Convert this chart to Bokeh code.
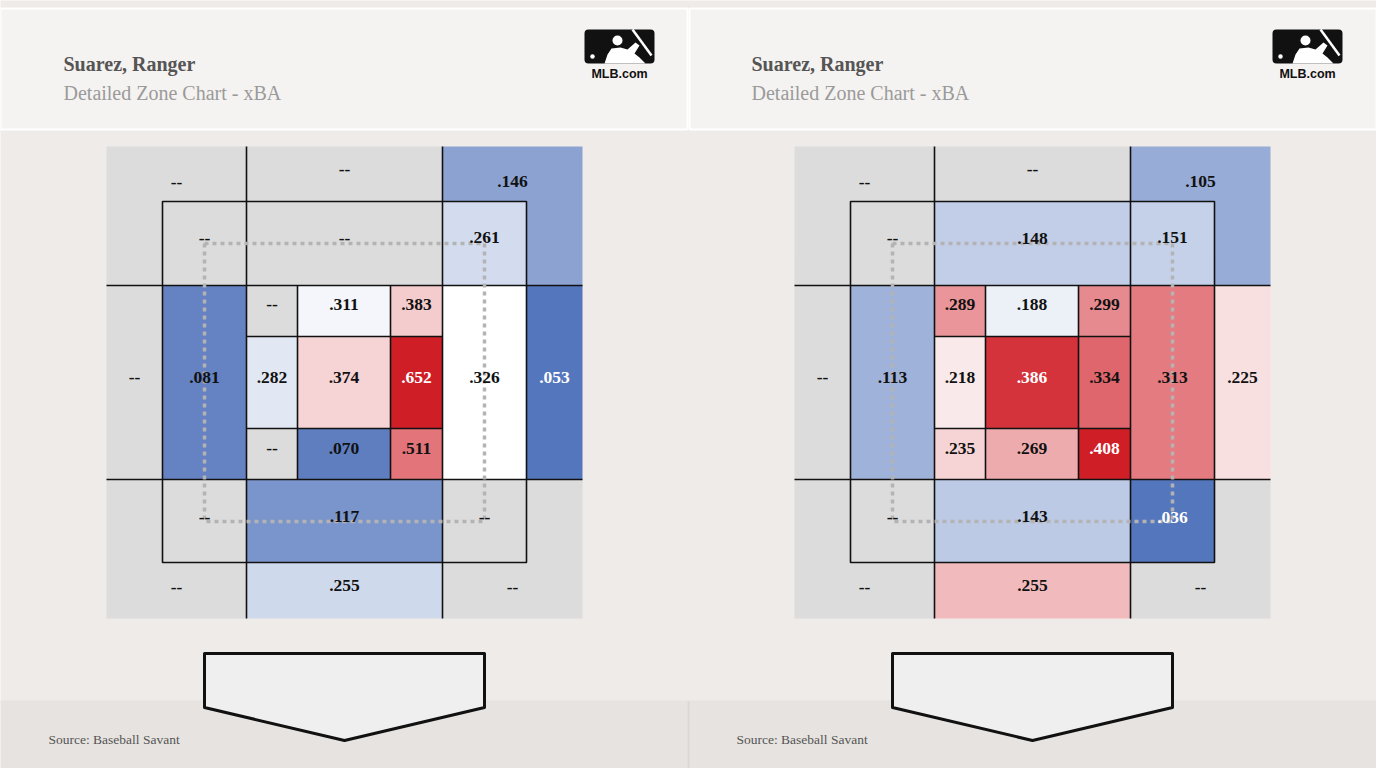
import numpy as np
from bokeh.plotting import figure
from bokeh.models import Range1d, ColumnDataSource, BoxAnnotation
from bokeh.core.properties import value
from bokeh.embed import file_html
from bokeh.resources import INLINE

# ---------------- data ----------------
player = "Suarez, Ranger"
subtitle = "Detailed Zone Chart - xBA"
source_note = "Source: Baseball Savant"
logo_text = "MLB.com"

# xBA per zone, None = no data ("--")
# outer (chase) zones: TL, TM, TR, L, R, BL, BM, BR
# shadow zones:        TL, TM, TR, L, R, BL, BM, BR
# heart zones (3x3):   row1 L,M,R / row2 L,M,R / row3 L,M,R
left_outer = [None, None, .146, None, .053, None, .255, None]
left_shadow = [None, None, .261, .081, .326, None, .117, None]
left_heart = [None, .311, .383, .282, .374, .652, None, .070, .511]

right_outer = [None, None, .105, None, .225, None, .255, None]
right_shadow = [None, .148, .151, .113, .313, None, .143, .036]
right_heart = [.289, .188, .299, .218, .386, .334, .235, .269, .408]

# colour scale anchors per chart: (blue end, white middle, red end)
left_scale = (0.053, 0.326, 0.652)
right_scale = (0.036, 0.205, 0.408)

# ---------------- styles ----------------
BG = "#eeebe8"
HEADER = "#f5f3f1"
FOOTER = "#e6e3e0"
GRAY = "#dcdcdc"
BLUE = np.array([84, 118, 188])
RED = np.array([208, 30, 39])
WHITE = np.array([255, 255, 255])
SERIF = value("Liberation Serif")
SANS = value("Liberation Sans")


def colour(v, scale):
    lo, mid, hi = scale
    if v is None:
        return GRAY, False
    if v >= mid:
        t = min((v - mid) / (hi - mid), 1.0)
        c = WHITE + (RED - WHITE) * t ** 0.85
        strong = t > 0.8
    else:
        t = min((mid - v) / (mid - lo), 1.0)
        c = WHITE + (BLUE - WHITE) * t ** 0.95
        strong = t > 0.97
    c = np.clip(np.round(c), 0, 255).astype(int)
    return "#%02x%02x%02x" % tuple(c), strong


def label(v):
    return "--" if v is None else ".%03d" % int(round(v * 1000))


# ---------------- geometry (left panel, page pixels) ----------------
a, b, c, d, e, f, g, h = 106, 162, 246, 297, 390, 442, 526, 582
A, B, C, D, E, F, G, H = 146, 201, 285, 336, 428, 479, 562, 618


def rect(x0, x1, y0, y1):
    return [x0, x1, x1, x0], [y0, y0, y1, y1]


outer_geom = [
    ([a, c, c, b, b, a], [A, A, B, B, C, C], 176, 182),
    (*rect(c, f, A, B), 344, 169),
    ([f, h, h, g, g, f], [A, A, C, C, B, B], 512, 181),
    (*rect(a, b, C, F), 134, 377),
    (*rect(g, h, C, F), 554, 377),
    ([a, b, b, c, c, a], [F, F, G, G, H, H], 176, 587),
    (*rect(c, f, G, H), 344, 585),
    ([g, h, h, f, f, g], [F, F, H, H, G, G], 512, 587),
]
shadow_geom = [
    (*rect(b, c, B, C), 204, 238),
    (*rect(c, f, B, C), 344, 238),
    (*rect(f, g, B, C), 484, 237),
    (*rect(b, c, C, F), 204, 377),
    (*rect(f, g, C, F), 484, 377),
    (*rect(b, c, F, G), 204, 517),
    (*rect(c, f, F, G), 344, 516),
    (*rect(f, g, F, G), 484, 517),
]
heart_geom = []
for (y0, y1, ly) in [(C, D, 304), (D, E, 377), (E, F, 448)]:
    for (x0, x1) in [(c, d), (d, e), (e, f)]:
        heart_geom.append((*rect(x0, x1, y0, y1), (x0 + x1) / 2, ly))

geom = outer_geom + shadow_geom + heart_geom

p = figure(width=1376, height=768, x_range=Range1d(0, 1376), y_range=Range1d(768, 0),
           output_backend="svg", toolbar_location=None, min_border=0,
           background_fill_color=BG, border_fill_color=BG, outline_line_color=None)
p.axis.visible = False
p.grid.visible = False

# header & footer bands
p.quad(left=[0, 689], right=[687, 1376], top=[8, 8], bottom=[129, 129],
       fill_color=HEADER, line_color="white", line_width=2, level="image")
p.quad(left=[0, 688], right=[688, 1376], top=[700, 700], bottom=[768, 768],
       fill_color=FOOTER, line_color=None, level="image")
p.segment(x0=[688], y0=[700], x1=[688], y1=[768], line_color="#d9d6d3", line_width=1.5,
          level="image")
p.segment(x0=[0], y0=[700], x1=[1376], y1=[700], line_color="#e9e7e5", line_width=1,
          level="image")

panels = [(0, left_outer + left_shadow + left_heart, left_scale),
          (688, right_outer + right_shadow + right_heart, right_scale)]

for dx, vals, scale in panels:
    xs, ys, fills, lx, ly, labs, tcol = [], [], [], [], [], [], []
    for (gx, gy, px, py), v in zip(geom, vals):
        xs.append([x + dx for x in gx])
        ys.append(list(gy))
        col, strong = colour(v, scale)
        fills.append(col)
        lx.append(px + dx)
        ly.append(py)
        labs.append(label(v))
        tcol.append("white" if strong else "#111111")
    p.patches(xs, ys, fill_color=fills, line_color=None)

    # grid lines
    sx0 = [c, f, a, a, d, e, c, c]
    sx1 = [c, f, h, h, d, e, f, f]
    sy0 = [A, A, C, F, C, C, D, E]
    sy1 = [H, H, C, F, F, F, D, E]
    p.segment(x0=[x + dx for x in sx0], y0=sy0, x1=[x + dx for x in sx1], y1=sy1,
              line_color="#111111", line_width=1.6)
    p.quad(left=[b + dx], right=[g + dx], top=[B], bottom=[G], fill_color=None,
           line_color="#111111", line_width=1.6)

    # dotted rulebook zone
    p.line([204 + dx, 484 + dx, 484 + dx, 204 + dx, 204 + dx], [243, 243, 521, 521, 243],
           line_color="#b3b3b3", line_width=3.5, line_dash="4 4")

    src = ColumnDataSource(dict(x=lx, y=ly, t=labs, c=tcol))
    p.text(x="x", y="y", text="t", text_color="c", source=src, text_font=SERIF,
           text_font_size="17.5px", text_font_style="bold", text_align="center",
           text_baseline="middle")

    # home plate
    p.patch([204 + dx, 484 + dx, 484 + dx, 344 + dx, 204 + dx], [653, 653, 707, 740, 707],
            fill_color="#efefef", line_color="#111111", line_width=3, line_join="round")

    # titles
    p.text(x=[63 + dx], y=[63], text=[player], text_font=SERIF, text_font_size="20px",
           text_font_style="bold", text_color="#555555", text_baseline="middle")
    p.text(x=[63 + dx], y=[92], text=[subtitle], text_font=SERIF, text_font_size="20px",
           text_color="#9a9a9a", text_baseline="middle")
    p.text(x=[48 + dx], y=[739], text=[source_note], text_font=SERIF, text_font_size="13.5px",
           text_color="#555555", text_baseline="middle")

    # logo
    p.add_layout(BoxAnnotation(left=584 + dx, right=654 + dx, top=29, bottom=63,
                               fill_color="#111111", fill_alpha=1, line_color=None,
                               border_radius=4, level="underlay"))
    p.patch([x + dx for x in [604, 607, 611, 620, 627, 635, 639, 634, 639, 645]],
            [63, 54, 48, 47, 49, 42, 45, 53, 57, 63], fill_color="white", line_color=None)
    p.scatter([617 + dx], [40], size=10, fill_color="white", line_color=None)
    p.scatter([592 + dx], [56], size=4.5, fill_color="white", line_color=None)
    p.segment(x0=[632 + dx], y0=[29], x1=[651 + dx], y1=[55], line_color="white", line_width=2.5)
    p.text(x=[619 + dx], y=[73], text=[logo_text], text_font=SANS, text_font_size="12.5px",
           text_font_style="bold", text_color="#111111", text_align="center",
           text_baseline="middle")

open("out.html", "w").write(file_html(p, INLINE))
